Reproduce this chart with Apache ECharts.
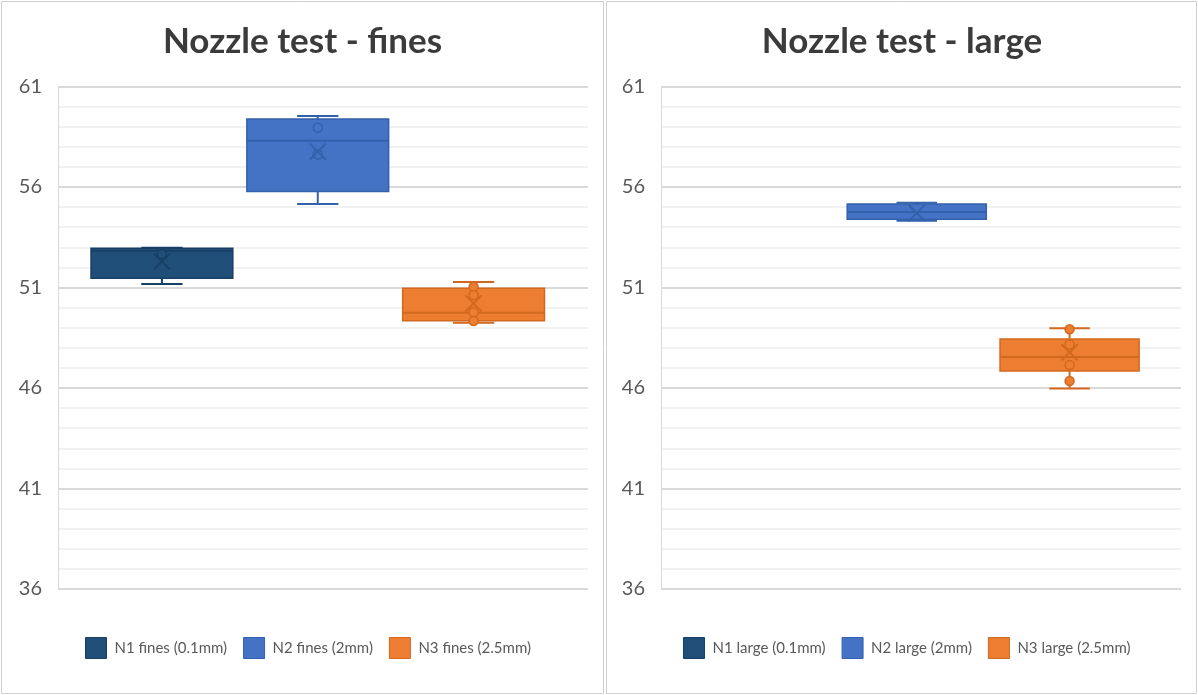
<!DOCTYPE html>
<html>
<head>
<meta charset="utf-8">
<script src="https://cdn.jsdelivr.net/npm/echarts@6/dist/echarts.min.js"></script>
<style>
  html, body { margin: 0; padding: 0; background: #ffffff; }
  #chart { width: 1198px; height: 695px; }
</style>
</head>
<body>
<div id="chart"></div>
<script>
// Axis range shared by both panels
const yMin = 36;
const yMax = 61;
const yStep = 5;

// Series names per panel
const finesNames = ['N1 fines (0.1mm)', 'N2 fines (2mm)', 'N3 fines (2.5mm)'];
const largeNames = ['N1 large (0.1mm)', 'N2 large (2mm)', 'N3 large (2.5mm)'];

// Five-number summaries per nozzle: [min, Q1, median, Q3, max]
const finesStats = [
  [51.17, 51.46, 52.83, 52.95, 52.98],
  [55.15, 55.77, 58.30, 59.38, 59.53],
  [49.25, 49.35, 49.75, 50.96, 51.27]
];
const finesMeans = [52.30, 57.76, 50.21];
const finesPoints = [
  [52.67],
  [58.95, 57.62],
  [51.04, 50.63, 49.77, 49.33]
];

const largeStats = [
  null,
  [54.32, 54.39, 54.76, 55.15, 55.22],
  [45.98, 46.85, 47.54, 48.44, 48.97]
];
const largeMeans = [null, 54.71, 47.78];
const largePoints = [
  [],
  [],
  [48.92, 48.17, 47.14, 46.35]
];

const fills = ['#1F4E79', '#4472C4', '#ED7D31'];
const strokes = ['#183f66', '#3461ad', '#d2691f'];

const FONT = 'Lato, "Open Sans", sans-serif';

// Draws one box with whiskers, median, mean cross and inner points
function boxRenderer(pointsList, colorIdx) {
  return function (params, api) {
    const cat = api.value(0);
    const band = api.size([1, 0])[0];
    const bw = band * 0.91;
    const cw = band * 0.265;
    const x = api.coord([cat, api.value(3)])[0];
    const yMinP = api.coord([cat, api.value(1)])[1];
    const yQ1 = api.coord([cat, api.value(2)])[1];
    const yMed = api.coord([cat, api.value(3)])[1];
    const yQ3 = api.coord([cat, api.value(4)])[1];
    const yMaxP = api.coord([cat, api.value(5)])[1];
    const yMean = api.coord([cat, api.value(6)])[1];
    const fill = fills[colorIdx];
    const stroke = strokes[colorIdx];
    const lineStyle = { stroke: stroke, lineWidth: 2 };
    const children = [
      { type: 'line', shape: { x1: x, y1: yQ3, x2: x, y2: yMaxP }, style: lineStyle },
      { type: 'line', shape: { x1: x, y1: yQ1, x2: x, y2: yMinP }, style: lineStyle },
      { type: 'line', shape: { x1: x - cw / 2, y1: yMaxP, x2: x + cw / 2, y2: yMaxP }, style: lineStyle },
      { type: 'line', shape: { x1: x - cw / 2, y1: yMinP, x2: x + cw / 2, y2: yMinP }, style: lineStyle },
      {
        type: 'rect',
        shape: { x: x - bw / 2, y: yQ3, width: bw, height: yQ1 - yQ3 },
        style: { fill: fill, stroke: stroke, lineWidth: 1.5 }
      },
      { type: 'line', shape: { x1: x - bw / 2, y1: yMed, x2: x + bw / 2, y2: yMed }, style: { stroke: stroke, lineWidth: 2 } }
    ];
    const pts = pointsList[colorIdx] || [];
    pts.forEach(function (v) {
      const p = api.coord([cat, v]);
      children.push({
        type: 'circle',
        shape: { cx: p[0], cy: p[1], r: 4.5 },
        style: { fill: fill, stroke: stroke, lineWidth: 1.5 }
      });
    });
    const h = 8;
    children.push(
      { type: 'line', shape: { x1: x - h, y1: yMean - h, x2: x + h, y2: yMean + h }, style: { stroke: stroke, lineWidth: 2 } },
      { type: 'line', shape: { x1: x - h, y1: yMean + h, x2: x + h, y2: yMean - h }, style: { stroke: stroke, lineWidth: 2 } }
    );
    return { type: 'group', children: children };
  };
}

function boxSeries(names, stats, means, points, axisIdx) {
  return names.map(function (name, i) {
    const data = stats[i] ? [[i].concat(stats[i]).concat([means[i]])] : [];
    return {
      type: 'custom',
      name: name,
      xAxisIndex: axisIdx,
      yAxisIndex: axisIdx,
      itemStyle: { color: fills[i] },
      encode: { x: 0, y: [1, 2, 3, 4, 5, 6] },
      renderItem: boxRenderer(points, i),
      data: data
    };
  });
}

function legendFor(names, left) {
  return {
    left: left,
    top: 632,
    itemWidth: 21,
    itemHeight: 21,
    itemGap: 16,
    selectedMode: false,
    textStyle: { fontFamily: FONT, fontSize: 15, color: '#595959', padding: [0, 0, 0, 3] },
    data: names.map(function (n, i) {
      return { name: n, icon: 'rect', itemStyle: { color: fills[i], borderColor: strokes[i], borderWidth: 1 } };
    })
  };
}

function valueAxis(gridIndex, visible) {
  return {
    type: 'value',
    gridIndex: gridIndex,
    min: yMin,
    max: yMax,
    interval: yStep,
    show: visible,
    axisLine: { show: true, lineStyle: { color: '#d9d9d9', width: 1 } },
    axisTick: { show: false },
    axisLabel: { fontFamily: FONT, fontSize: 20, color: '#595959', margin: 16 },
    splitLine: { show: visible, lineStyle: { color: '#d9d9d9', width: 2 } },
    minorTick: { show: false, splitNumber: 5 },
    minorSplitLine: { show: visible, lineStyle: { color: '#eeeeee', width: 1.5 } }
  };
}

const chart = echarts.init(document.getElementById('chart'), null, { renderer: 'canvas' });

const titleStyle = { fontFamily: FONT, fontWeight: 'bold', fontSize: 35, color: '#3b3b3b' };

chart.setOption({
  backgroundColor: '#ffffff',
  animation: false,
  title: [
    { text: 'Nozzle test - fines', left: 302.5, top: 24, textAlign: 'center', padding: 0, textStyle: titleStyle },
    { text: 'Nozzle test - large', left: 902, top: 24, textAlign: 'center', padding: 0, textStyle: titleStyle }
  ],
  legend: [legendFor(finesNames, 80), legendFor(largeNames, 678)],
  graphic: [
    { type: 'rect', z: -10, shape: { x: 1.5, y: 1.5, width: 602, height: 692 }, style: { fill: 'none', stroke: '#d0d0d0', lineWidth: 1 } },
    { type: 'rect', z: -10, shape: { x: 606.5, y: 1.5, width: 590, height: 692 }, style: { fill: 'none', stroke: '#d0d0d0', lineWidth: 1 } }
  ],
  grid: [
    { left: 58, right: 610, top: 86.5, bottom: 106 },
    { left: 84, right: 646.5, top: 86.5, bottom: 106 },
    { left: 661, right: 17, top: 86.5, bottom: 106 },
    { left: 687.5, right: 52, top: 86.5, bottom: 106 }
  ],
  xAxis: [
    { type: 'category', gridIndex: 0, data: [''], show: false },
    { type: 'category', gridIndex: 1, data: finesNames, show: false },
    { type: 'category', gridIndex: 2, data: [''], show: false },
    { type: 'category', gridIndex: 3, data: largeNames, show: false }
  ],
  yAxis: [valueAxis(0, true), valueAxis(1, false), valueAxis(2, true), valueAxis(3, false)],
  series: []
    .concat(boxSeries(finesNames, finesStats, finesMeans, finesPoints, 1))
    .concat(boxSeries(largeNames, largeStats, largeMeans, largePoints, 3))
});
</script>
</body>
</html>
